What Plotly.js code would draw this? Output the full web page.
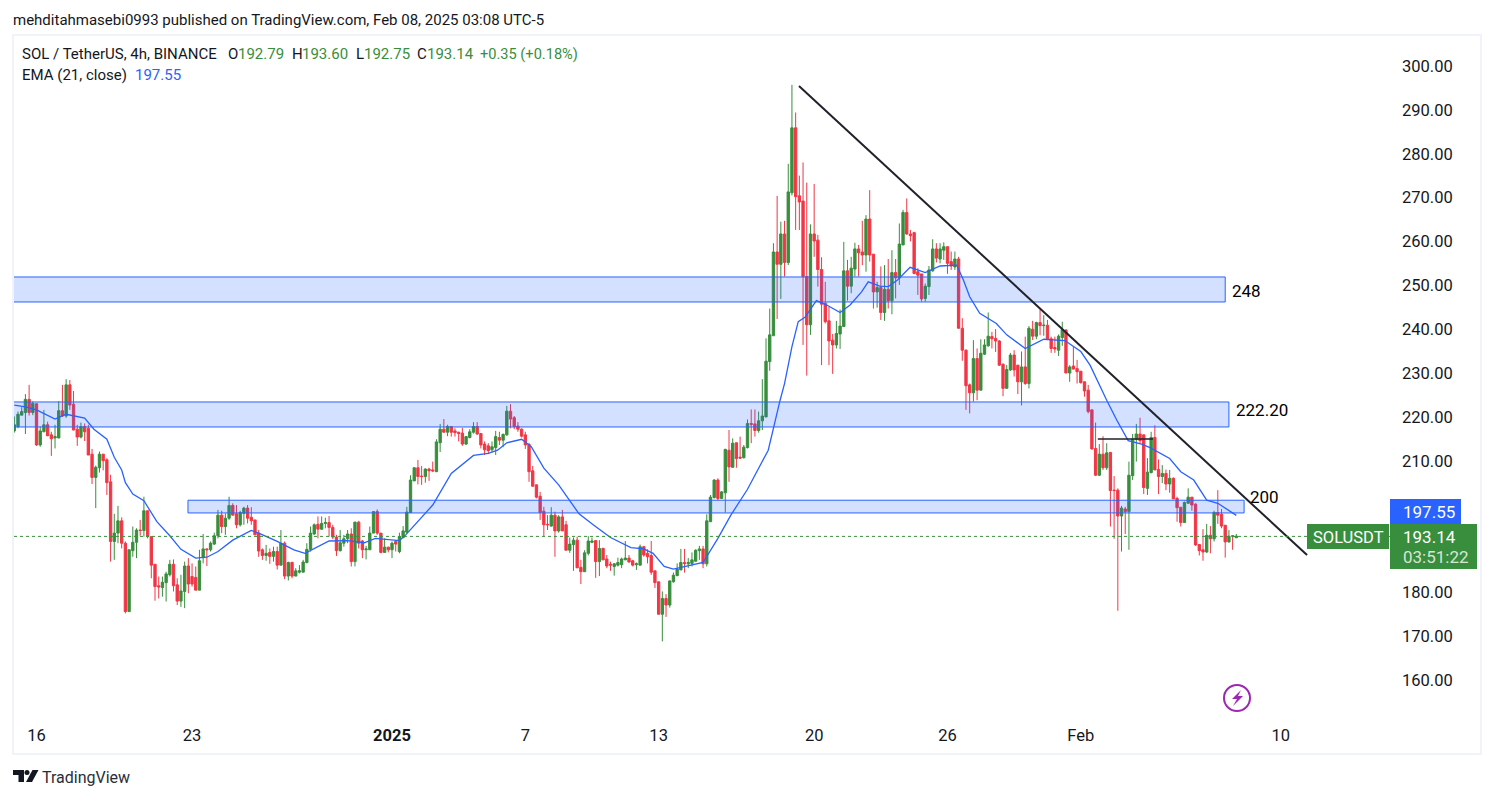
<!DOCTYPE html>
<html>
<head>
<meta charset="utf-8">
<script src="https://cdn.plot.ly/plotly-3.0.1.min.js"></script>
<style>
  html, body { margin: 0; padding: 0; background: #fff; overflow: hidden; }
</style>
</head>
<body>
<div id="chart" style="width:1494px;height:798px"></div>
<script>
// 4h candles, first one at Dec 15 2024 00:00
const opens = [
  216.8,217.8,220.4,221.0,224.0,221.0,223.0,213.6,216.6,218.2,
  215.9,215.2,215.2,221.4,220.2,227.3,222.9,217.2,215.4,217.8,
  217.4,211.5,206.2,208.4,211.5,210.2,205.2,191.6,193.5,196.3,
  191.2,175.6,189.5,191.4,194.2,194.1,198.6,192.7,186.4,181.5,
  181.1,182.2,184.0,186.4,181.7,178.0,180.2,186.0,183.6,183.4,
  180.5,188.0,189.9,189.7,191.0,192.9,197.6,195.0,196.9,199.8,
  197.9,195.4,198.0,199.2,197.1,196.5,193.5,189.7,188.4,189.1,
  188.2,189.3,186.2,191.2,183.7,186.8,183.7,184.6,184.6,186.8,
  189.8,193.3,195.5,194.4,195.7,195.9,194.8,192.6,189.5,191.2,
  192.2,193.3,187.0,196.0,191.7,189.7,189.7,193.5,198.4,193.5,
  189.1,190.3,189.7,191.6,189.3,192.5,193.7,198.2,205.4,208.4,
  206.5,206.4,208.1,207.9,207.5,214.1,217.2,216.5,217.8,216.8,
  216.5,216.3,213.8,215.3,216.5,217.8,216.2,213.8,213.4,212.5,
  213.0,215.3,214.7,215.9,221.3,219.8,217.9,217.2,215.9,213.7,
  207.7,204.5,201.9,198.5,195.5,195.1,197.6,194.0,197.2,195.4,
  189.6,190.9,191.9,185.7,184.7,188.9,191.4,191.8,187.0,190.0,
  187.6,186.4,185.9,186.2,186.3,187.4,187.8,187.2,186.3,186.2,
  190.4,188.9,188.4,184.9,182.4,175.0,178.6,177.1,182.4,183.8,
  185.1,186.8,186.5,186.6,187.1,189.5,189.9,186.5,196.1,201.6,
  205.6,201.4,202.7,212.4,208.5,214.1,210.8,210.7,213.0,218.5,
  218.4,216.9,219.1,220.0,232.6,238.5,257.6,254.8,261.7,255.2,
  271.1,285.9,270.4,269.2,252.0,241.0,261.7,260.3,253.6,245.9,
  241.9,237.5,236.4,238.9,240.6,253.3,249.8,253.7,258.3,257.6,
  256.9,265.1,257.1,248.5,249.5,243.8,249.1,246.5,252.9,251.7,
  259.2,266.6,261.7,262.0,253.1,252.6,247.0,249.7,253.3,258.3,
  256.0,258.0,258.8,255.4,254.2,256.0,240.2,235.2,227.3,225.5,
  233.3,226.1,234.3,236.2,238.3,237.9,237.3,232.0,226.5,230.7,
  234.1,231.8,228.0,231.4,227.6,240.0,238.4,241.5,240.8,240.9,
  237.8,235.8,235.2,238.1,239.8,230.0,231.6,231.0,230.4,228.0,
  226.1,221.6,212.8,206.7,211.5,208.4,211.9,203.3,203.3,197.4,
  199.0,198.4,206.6,214.9,216.1,215.9,203.7,207.3,215.3,208.0,
  206.4,207.1,204.7,206.0,201.4,199.4,195.9,200.3,201.7,200.1,
  190.9,189.7,189.2,193.0,192.2,198.2,197.8,195.3,191.5,192.9,
  192.45
];
const closes = [
  218.2,220.6,221.2,224.0,221.0,223.1,213.6,216.8,218.2,215.7,
  215.0,215.5,221.4,220.2,227.3,222.7,217.0,215.4,217.8,216.6,
  211.3,206.2,208.5,211.5,210.0,205.0,191.6,193.5,196.3,191.2,
  175.6,189.7,191.4,194.2,194.1,198.6,192.7,186.2,181.3,181.2,
  182.3,184.2,186.4,181.5,178.0,180.3,186.0,181.9,181.9,180.5,
  187.2,189.9,189.7,191.2,192.9,197.6,195.0,196.9,199.8,197.6,
  195.4,198.2,199.2,196.9,196.3,193.1,189.4,188.4,188.9,188.2,
  189.3,186.2,191.2,183.7,186.8,183.7,184.9,184.9,186.9,189.8,
  193.5,195.4,194.4,195.7,195.9,194.8,192.6,189.5,191.3,192.2,
  193.3,187.0,196.0,191.2,189.7,189.9,193.5,198.4,193.5,189.1,
  190.3,189.7,191.2,191.0,192.7,194.0,198.3,205.6,208.4,206.4,
  206.4,208.1,207.7,207.7,214.3,217.2,216.5,217.8,216.5,216.4,
  216.2,213.8,215.5,216.6,217.8,216.1,213.6,212.5,212.3,213.2,
  215.5,214.7,216.0,221.3,219.5,217.8,217.2,215.6,213.6,207.5,
  204.2,201.7,198.2,195.4,195.4,197.6,194.0,197.2,194.0,189.6,
  191.0,191.9,185.6,184.7,189.0,191.7,191.7,187.0,190.0,187.4,
  186.0,186.2,186.5,186.8,187.6,187.8,186.9,186.2,186.5,190.4,
  188.5,188.1,184.6,182.2,175.0,178.6,177.1,182.6,183.9,185.3,
  186.8,186.6,186.8,187.4,189.6,189.9,186.5,196.3,201.7,205.6,
  201.4,202.9,212.6,208.6,214.0,210.5,210.6,213.1,218.5,218.3,
  216.9,219.1,220.2,232.7,238.7,257.6,254.8,261.7,255.2,271.3,
  285.9,270.2,269.0,252.0,241.0,261.7,260.1,253.6,245.7,241.7,
  237.3,236.4,239.0,240.7,253.3,249.8,253.9,258.3,257.4,256.9,
  265.1,256.9,248.5,249.5,243.8,249.1,246.5,252.9,251.7,259.4,
  266.6,261.7,261.3,252.7,252.3,246.9,249.8,253.5,258.3,256.2,
  258.3,258.8,255.0,254.4,256.0,240.2,235.2,227.1,225.5,233.3,
  226.1,234.5,236.4,238.4,237.8,237.3,231.8,226.5,230.8,234.1,
  230.7,228.0,231.4,227.6,240.2,238.4,241.5,240.8,240.9,237.8,
  235.6,235.5,238.4,239.9,230.0,231.4,230.9,230.3,227.8,225.9,
  221.2,212.7,206.7,211.5,208.4,211.8,203.2,203.2,197.4,199.2,
  198.4,206.7,214.9,216.1,214.6,203.9,207.4,215.3,207.9,206.4,
  207.1,204.7,206.0,201.3,199.3,195.9,200.5,201.7,199.9,190.8,
  189.5,189.2,193.0,192.2,198.2,197.6,195.1,191.5,192.8,192.8,
  192.8
];
const highs = [
  220.1,221.2,222.2,225.2,227.3,223.5,223.1,217.8,221.6,218.9,
  216.6,218.2,223.6,227.3,228.6,228.4,225.9,218.2,218.7,218.5,
  218.2,212.7,208.9,212.1,211.5,210.6,206.8,197.9,199.7,197.1,
  191.6,189.7,195.0,194.6,196.5,201.8,198.6,192.7,186.4,183.6,
  183.6,184.7,187.4,187.5,183.2,184.0,187.0,187.8,186.6,185.9,
  189.7,193.3,190.0,191.6,193.6,198.8,198.6,198.0,201.8,200.3,
  199.9,198.6,199.5,199.9,199.4,196.5,194.2,190.0,190.8,190.0,
  190.4,190.4,194.2,191.6,187.0,187.0,185.5,186.2,187.4,191.2,
  195.0,195.7,197.3,197.3,197.0,197.4,195.4,193.1,194.2,193.1,
  194.2,194.6,196.1,196.3,191.9,190.6,195.0,198.4,198.9,193.5,
  192.3,190.4,191.6,191.9,193.6,195.1,199.5,206.7,208.5,210.2,
  208.8,208.3,208.4,209.8,214.9,218.4,219.5,218.2,217.9,217.4,
  216.6,217.5,215.6,217.2,218.8,218.8,216.2,214.4,214.0,214.4,
  216.8,216.6,216.2,222.5,222.9,220.2,218.8,217.4,216.6,214.1,
  208.8,204.6,202.9,199.5,197.6,199.4,198.4,197.6,198.8,196.3,
  192.5,192.5,192.7,187.4,189.6,192.8,192.5,191.9,191.9,190.2,
  188.5,187.0,186.6,187.9,187.9,191.7,188.5,187.4,186.8,190.9,
  190.6,189.8,191.7,184.9,182.4,180.2,179.6,182.7,184.5,186.6,
  189.9,189.9,187.8,189.1,189.8,190.6,190.6,197.8,202.2,205.8,
  206.0,203.1,212.7,217.0,215.1,214.1,215.5,213.6,219.4,221.7,
  221.7,221.2,228.6,237.9,244.7,259.6,270.4,264.5,264.7,277.7,
  295.7,289.4,275.0,278.0,273.4,263.9,273.1,261.5,256.4,250.8,
  245.1,238.9,241.9,244.5,259.9,255.8,256.5,259.7,259.2,264.7,
  266.0,271.7,257.1,250.8,254.3,254.6,256.0,258.0,256.0,264.1,
  267.2,269.8,262.6,262.2,253.9,252.6,250.4,254.4,260.5,259.6,
  259.6,259.8,258.8,257.7,257.7,256.5,242.5,235.4,227.6,237.5,
  235.6,237.7,237.7,243.8,239.4,240.0,237.5,232.2,231.8,234.6,
  235.2,231.8,234.9,238.3,240.7,241.9,241.7,244.5,243.2,242.1,
  238.3,238.3,238.8,241.7,240.0,231.8,236.1,233.0,230.5,228.0,
  227.3,221.6,218.7,213.8,215.6,214.0,212.0,206.5,203.7,199.7,
  199.5,209.8,216.1,218.4,219.8,215.9,210.6,216.6,218.1,210.3,
  209.0,208.0,207.9,206.2,201.8,199.4,200.7,203.7,201.7,200.3,
  190.9,194.4,195.6,195.1,198.6,203.3,199.0,195.3,194.2,193.0,
  193.3
];
const lows = [
  216.4,217.4,220.4,216.1,220.3,220.4,213.4,213.2,216.6,215.6,
  211.1,212.8,215.1,220.0,219.8,221.6,217.0,213.4,215.1,214.5,
  211.3,204.7,199.2,207.3,207.8,202.2,187.0,187.4,191.2,190.0,
  175.2,175.6,188.1,187.8,192.9,192.7,192.3,183.2,178.1,178.6,
  179.0,177.9,183.6,180.2,177.1,176.7,176.4,179.8,181.3,180.5,
  180.5,186.6,186.0,189.3,190.8,192.3,193.5,193.1,196.5,197.6,
  194.6,195.0,195.4,195.7,195.4,193.1,188.1,187.4,187.2,186.5,
  187.0,185.2,186.2,183.0,182.7,183.2,183.7,184.3,184.6,186.6,
  189.3,193.1,192.3,194.2,194.6,192.7,192.1,188.3,189.3,190.4,
  191.2,185.9,185.9,190.0,187.8,187.5,189.7,193.5,193.1,188.9,
  189.1,189.1,187.8,189.3,188.9,192.3,193.5,198.2,205.4,204.6,
  204.5,205.0,205.4,207.4,207.5,212.0,216.5,215.6,215.5,215.5,
  214.4,213.4,213.6,215.1,216.2,215.9,212.8,211.3,211.5,212.0,
  211.3,213.6,213.1,215.7,217.4,217.2,216.6,215.3,212.7,205.2,
  204.1,201.4,196.5,192.8,194.2,195.0,188.1,193.6,194.0,189.6,
  189.0,184.9,185.5,181.9,184.7,188.4,191.2,183.3,183.7,187.4,
  185.5,184.9,183.8,185.9,185.5,187.4,186.8,185.9,185.1,186.1,
  188.1,186.6,184.0,181.0,175.0,168.8,174.4,176.5,182.2,183.7,
  185.1,184.5,185.5,185.9,187.0,187.4,185.5,185.9,196.1,201.4,
  201.0,201.3,198.2,205.2,208.5,208.4,210.5,210.5,212.8,214.0,
  215.5,216.4,217.0,219.9,230.5,238.5,242.3,246.9,252.0,254.6,
  270.5,262.6,262.6,236.4,229.4,238.7,256.5,249.7,231.8,241.3,
  231.8,229.8,235.6,235.5,240.6,246.5,248.2,252.0,252.0,254.6,
  253.1,255.4,244.7,244.9,242.1,241.9,244.7,243.4,247.0,250.1,
  259.2,261.5,260.0,252.5,247.8,246.3,246.3,247.8,253.1,255.2,
  255.0,255.8,252.6,253.5,253.5,240.2,232.8,221.6,220.8,223.5,
  223.8,226.1,234.1,236.0,235.6,234.8,231.6,224.7,226.5,230.5,
  229.2,225.2,222.6,227.3,226.5,237.5,237.7,238.6,238.5,237.5,
  234.6,234.6,233.9,236.2,230.0,228.0,230.8,227.6,227.6,224.6,
  220.8,212.5,206.5,206.5,207.9,207.9,195.0,192.2,175.8,189.3,
  193.3,189.7,205.6,209.8,214.0,202.4,202.2,207.1,207.9,202.4,
  204.9,203.3,202.7,201.3,196.1,195.0,195.9,200.3,198.6,190.6,
  188.4,187.2,189.0,188.9,191.6,195.6,194.6,187.9,191.3,189.7,
  192.45
];

// EMA read at these candle positions
const emaPos = [0,3,6,11,14,19,21.5,25,27,29,30,32,35,38.5,42,45,49,52,55,59,64,66,71,75.5,78.5,82,85,90,94.5,97.5,102.5,
  104,105.7,113,118,124,128,130.5,133,137,139.6,143,147,150,152.5,156.5,161,166.5,170,172.5,175.5,178,182,186,190,193.5,198,
  203.6,206.8,208,210,211.7,213.5,214.8,216.6,219.4,223,225.7,228.8,230.6,233.7,236,238.5,241.9,246,250,254.5,256.3,
  258,260.7,265.2,268,273,278,283.7,288,290.5,295,297.7,300.8,304.4,306.7,312,315,318.5,322,325,330];
const emaVals = [222.7,222.3,221.6,219.5,220.6,219.7,217.2,214.9,210.8,207.9,205.0,202.4,200.9,196.1,192.9,189.8,187.8,188.0,189.3,191.9,194.1,193.5,191.6,189.7,188.9,190.4,191.7,191.8,191.3,192.3,191.8,
  191.8,193.1,199.9,207.1,211.2,211.7,212.4,214.1,214.9,213.2,208.3,204.5,201.0,197.9,195.3,192.5,190.2,189.9,188.9,185.9,185.3,186.0,186.8,192.3,197.6,203.5,
  212.4,223.8,227.6,236.0,241.7,242.7,244.4,246.5,245.5,243.8,245.5,248.5,250.8,249.8,249.7,251.2,254.1,252.9,254.4,254.6,251.2,
  247.4,243.6,241.3,238.7,235.6,237.7,237.4,234.9,231.8,223.8,219.3,214.6,213.8,213.0,210.5,207.5,205.6,201.0,200.3,197.55];

const priceTicks = [160,170,180,210,220,230,240,250,260,270,280,290,300];
const dateTicks = ['2024-12-16','2024-12-23','2025-01-01','2025-01-07','2025-01-13','2025-01-20','2025-01-26','2025-02-01','2025-02-10'];
const dateLabels = ['16','23','<b>2025</b>','7','13','20','26','Feb','10'];

const UP = '#388e3c', DOWN = '#f23645', BLUE = '#2962ff', DARK = '#131722';
const FONT = 'Roboto, sans-serif';

// plot area in page pixels
const L = 14, R = 1390, T = 36, B = 720;
const px = (x) => (x - L) / (R - L);
const py = (y) => 1 - (y - T) / (B - T);

function candleTime(i) {
  return new Date(Date.UTC(2024, 11, 15) + i * 4 * 3600 * 1000).toISOString().slice(0, 19);
}
const times = opens.map((_, i) => candleTime(i));

const candles = {
  type: 'candlestick',
  x: times, open: opens, high: highs, low: lows, close: closes,
  increasing: { line: { color: UP, width: 1 }, fillcolor: UP },
  decreasing: { line: { color: DOWN, width: 1 }, fillcolor: DOWN },
  whiskerwidth: 0,
  hoverinfo: 'skip'
};
const ema = {
  type: 'scatter', mode: 'lines',
  x: emaPos.map(candleTime), y: emaVals,
  line: { color: BLUE, width: 1.3 },
  hoverinfo: 'skip'
};

function label(x, y, text, color, size, extra) {
  return Object.assign({
    xref: 'paper', yref: 'paper', x: px(x), y: py(y), text: text, showarrow: false,
    xanchor: 'left', yanchor: 'middle', borderpad: 0, borderwidth: 0,
    font: { family: FONT, size: size, color: color }
  }, extra || {});
}
function box(x0, y0, x1, y1, color) {
  return { type: 'rect', xref: 'paper', yref: 'paper', x0: px(x0), y0: py(y0), x1: px(x1), y1: py(y1),
    fillcolor: color, line: { width: 0 } };
}
function zone(x0, x1, y0, y1) {
  return { type: 'rect', x0: x0, x1: x1, y0: y0, y1: y1, fillcolor: 'rgba(41,98,255,0.2)',
    line: { color: BLUE, width: 1 } };
}
function poly(points, color) {
  const d = points.map((p, i) => (i ? 'L' : 'M') + px(p[0]) + ',' + py(p[1])).join(' ') + ' Z';
  return { type: 'path', xref: 'paper', yref: 'paper', path: d, fillcolor: color, line: { width: 0 } };
}

const shapes = [
  // frame
  { type: 'rect', xref: 'paper', yref: 'paper', x0: px(13), x1: px(1481), y0: py(35), y1: py(754),
    line: { color: '#f0f3fa', width: 2 } },
  zone('2024-12-14 12:00', '2025-02-07 12:00', 246.2, 251.9),
  zone('2024-12-14 12:00', '2025-02-07 16:00', 217.7, 223.4),
  zone('2024-12-22 19:36', '2025-02-08 08:24', 198.1, 201.0),
  // trend line and the short level under it
  { type: 'line', x0: '2025-01-19 07:36', y0: 295.44, x1: '2025-02-11 04:24', y1: 188.5,
    line: { color: '#20222a', width: 2 } },
  { type: 'line', x0: '2025-02-01 18:24', y0: 214.96, x1: '2025-02-04 06:00', y1: 214.96,
    line: { color: '#20222a', width: 1.5 } },
  // last price line
  { type: 'line', xref: 'paper', x0: 0, x1: 1, y0: 192.75, y1: 192.75,
    line: { color: UP, width: 1, dash: 'dot' } },
  // price scale boxes
  box(1390, 499, 1461, 524, BLUE),
  box(1390, 524, 1477, 569, UP),
  box(1307, 524, 1389, 549, UP),
  // lightning badge
  { type: 'circle', xref: 'paper', yref: 'paper', x0: px(1224), x1: px(1250), y0: py(685), y1: py(711),
    line: { color: '#9c27b0', width: 2 }, fillcolor: 'rgba(0,0,0,0)' },
  poly([[1241, 690], [1232, 699], [1237, 699], [1233, 706], [1243, 696], [1238, 696]], '#9c27b0'),
  // logo
  poly([[13, 770], [24, 770], [24, 782], [18.5, 782], [18.5, 775], [13, 775]], '#131722'),
  { type: 'circle', xref: 'paper', yref: 'paper', x0: px(24.5), x1: px(29.5), y0: py(770), y1: py(775),
    fillcolor: '#131722', line: { width: 0 } },
  poly([[32.5, 770], [38.5, 770], [32, 782], [26, 782]], '#131722')
];

const annotations = [
  label(13, 20, 'mehditahmasebi0993 published on TradingView.com, Feb 08, 2025 03:08 UTC-5', DARK, 15),
  label(22, 54, 'SOL / TetherUS, 4h, BINANCE', DARK, 15),
  label(228, 54, 'O', DARK, 15), label(238, 54, '192.79', UP, 15),
  label(292, 54, 'H', DARK, 15), label(302, 54, '193.60', UP, 15),
  label(356, 54, 'L', DARK, 15), label(364, 54, '192.75', UP, 15),
  label(417, 54, 'C', DARK, 15), label(427, 54, '193.14', UP, 15),
  label(480, 54, '+0.35 (+0.18%)', UP, 14.6),
  label(22, 75, 'EMA (21, close)', DARK, 15),
  label(135, 75, '197.55', BLUE, 15),
  label(1232, 291, '248', '#000', 17),
  label(1236, 410, '222.20', '#000', 17),
  label(1250, 497, '200', '#000', 17),
  label(1403, 512, '197.55', '#fff', 17),
  label(1403, 537, '193.14', '#fff', 17),
  label(1403, 557, '03:51:22', 'rgba(255,255,255,0.8)', 17),
  label(1313, 537, 'SOLUSDT', '#fff', 16.5),
  label(42, 777, 'TradingView', '#2a2e39', 16)
];

const layout = {
  width: 1494, height: 798,
  margin: { l: L, r: 1494 - R, t: T, b: 798 - B, pad: 0 },
  paper_bgcolor: '#fff', plot_bgcolor: '#fff',
  showlegend: false,
  boxgap: 0.1,
  hovermode: false,
  xaxis: {
    type: 'date',
    range: [candleTime(-0.08), candleTime(371.5)],
    rangeslider: { visible: false },
    tickmode: 'array', tickvals: dateTicks, ticktext: dateLabels,
    showgrid: false, zeroline: false, showline: false, ticks: '',
    ticklabelstandoff: 3,
    tickfont: { family: FONT, size: 16.5, color: DARK }
  },
  yaxis: {
    side: 'right',
    range: [150.89, 306.84],
    tickmode: 'array', tickvals: priceTicks, tickformat: '.2f',
    showgrid: false, zeroline: false, showline: false, ticks: '',
    ticklabelstandoff: 11,
    tickfont: { family: FONT, size: 16.5, color: DARK }
  },
  shapes: shapes,
  annotations: annotations
};

Plotly.newPlot('chart', [candles, ema], layout, { displayModeBar: false, staticPlot: true });
</script>
</body>
</html>
